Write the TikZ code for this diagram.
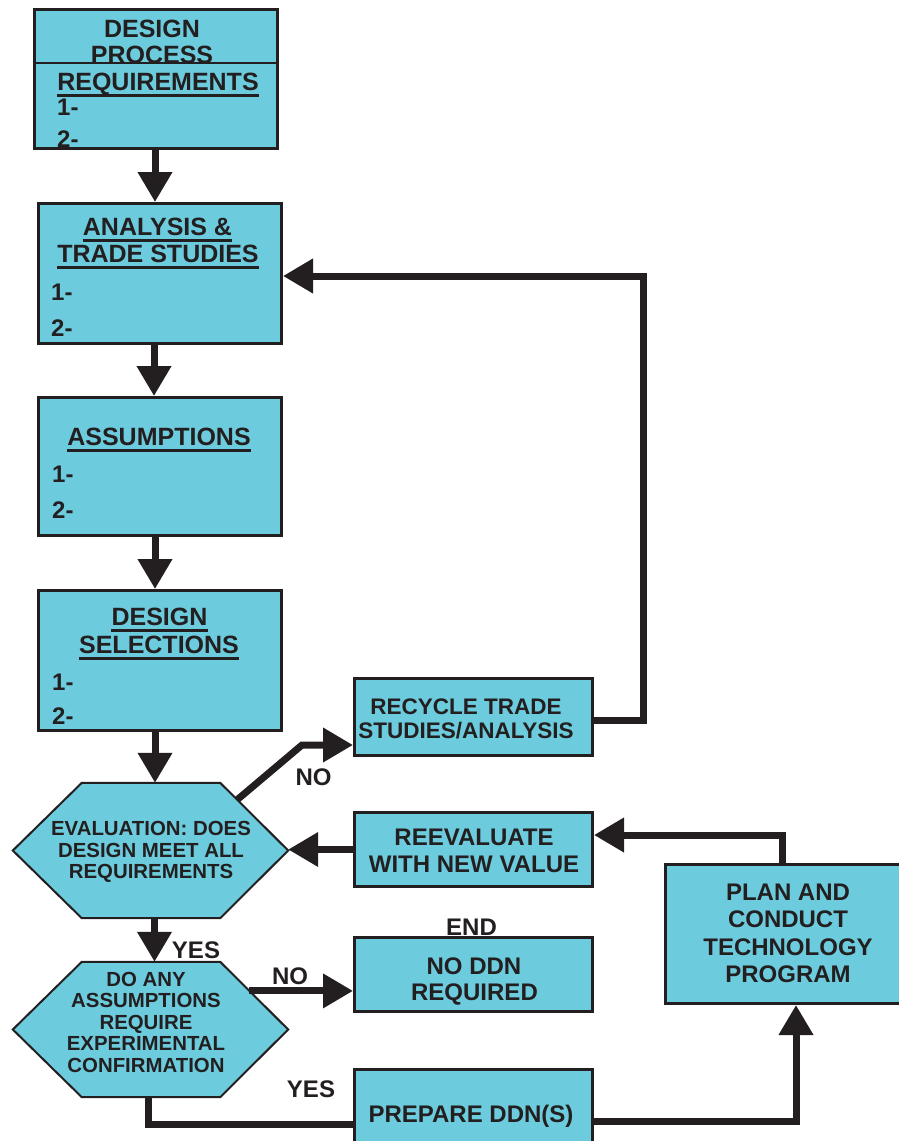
\documentclass[tikz,border=0pt]{standalone}
\usepackage{fontspec}
\setmainfont{Liberation Sans}
\usetikzlibrary{arrows.meta,calc}
\definecolor{boxfill}{RGB}{108,204,221}
\definecolor{ink}{RGB}{35,31,32}
\begin{document}
\begin{tikzpicture}[x=1pt,y=-1pt,
  box/.style={draw=ink, line width=3pt, fill=boxfill, inner sep=0pt},
  hexbox/.style={inner sep=0pt, minimum width=275pt, minimum height=135pt},
  hexline/.style={draw=ink, line width=2pt, fill=boxfill, line join=miter},
  arr/.style={draw=ink, line width=7pt, -{Triangle[width=33pt,length=30pt]}},
  conn/.style={draw=ink, line width=7pt},
  txt/.style={inner sep=0pt, text=ink, font=\bfseries\fontsize{24}{26}\selectfont, anchor=base},
  ttl/.style={txt, font=\bfseries\fontsize{25}{27}\selectfont},
  htxt/.style={txt, font=\bfseries\fontsize{20.4}{22}\selectfont},
  rtxt/.style={txt, font=\bfseries\fontsize{22.5}{24}\selectfont},
  num/.style={txt, anchor=base west},
  uline/.style={draw=ink, line width=3pt}
]
\useasboundingbox (0,0) rectangle (899,1141);
\clip (0,0) rectangle (899,1141);

% ---------- left boxes ----------
\node[box, minimum width=243pt, minimum height=139pt] (b1) at (156,79) {};
\coordinate (dv) at (33,63);
\draw[ink, line width=2.5pt] (dv -| b1.west) -- (dv -| b1.east);
\node[ttl] (t1a) at (152,37) {DESIGN};
\node[ttl] (t1b) at (152,63) {PROCESS};
\node[ttl] (t1c) at (158,90) {REQUIREMENTS};
\draw[uline] ([yshift=-5.5pt]t1c.base west) -- ([yshift=-5.5pt]t1c.base east);
\node[num] (n1a) at (57,115) {1-};
\node[num] (n1b) at (57,147) {2-};

\node[box, minimum width=243pt, minimum height=140pt] (b2) at (160,273.5) {};
\node[ttl] (t2a) at (157.5,235) {ANALYSIS \&};
\draw[uline] ([yshift=-5.5pt]t2a.base west) -- ([yshift=-5.5pt]t2a.base east);
\node[ttl] (t2b) at (158,262) {TRADE STUDIES};
\draw[uline] ([yshift=-5.5pt]t2b.base west) -- ([yshift=-5.5pt]t2b.base east);
\node[num] (n2a) at (51,300) {1-};
\node[num] (n2b) at (51,336) {2-};

\node[box, minimum width=243pt, minimum height=138pt] (b3) at (160,466.5) {};
\node[ttl] (t3a) at (159,445) {ASSUMPTIONS};
\draw[uline] ([yshift=-5.5pt]t3a.base west) -- ([yshift=-5.5pt]t3a.base east);
\node[num] (n3a) at (52,482) {1-};
\node[num] (n3b) at (52,518) {2-};

\node[box, minimum width=243pt, minimum height=140pt] (b4) at (160,660.5) {};
\node[ttl] (t4a) at (159.5,625) {DESIGN};
\draw[uline] ([yshift=-5.5pt]t4a.base west) -- ([yshift=-5.5pt]t4a.base east);
\node[ttl] (t4b) at (159,653) {SELECTIONS};
\draw[uline] ([yshift=-5.5pt]t4b.base west) -- ([yshift=-5.5pt]t4b.base east);
\node[num] (n4a) at (52,690) {1-};
\node[num] (n4b) at (52,724) {2-};

% ---------- hexagons ----------
\node[hexbox] (h1) at (150.5,850.5) {};
\coordinate (h1nw) at ([xshift=69pt]h1.north west);
\coordinate (h1ne) at ([xshift=-68pt]h1.north east);
\coordinate (h1se) at ([xshift=-68pt]h1.south east);
\coordinate (h1sw) at ([xshift=69pt]h1.south west);
\path[hexline] (h1.west) -- (h1nw) -- (h1ne) -- (h1.east) -- (h1se) -- (h1sw) -- cycle;
\node[htxt] (e1) at (151,835) {EVALUATION: DOES};
\node[htxt] (e2) at (151,857) {DESIGN MEET ALL};
\node[htxt] (e3) at (151,878) {REQUIREMENTS};

\node[hexbox] (h2) at (150.5,1029.5) {};
\coordinate (h2nw) at ([xshift=69pt]h2.north west);
\coordinate (h2ne) at ([xshift=-68pt]h2.north east);
\coordinate (h2se) at ([xshift=-68pt]h2.south east);
\coordinate (h2sw) at ([xshift=69pt]h2.south west);
\path[hexline] (h2.west) -- (h2nw) -- (h2ne) -- (h2.east) -- (h2se) -- (h2sw) -- cycle;
\node[htxt] (d1) at (146,986) {DO ANY};
\node[htxt] (d2) at (146,1007.5) {ASSUMPTIONS};
\node[htxt] (d3) at (146,1029) {REQUIRE};
\node[htxt] (d4) at (146,1050.5) {EXPERIMENTAL};
\node[htxt] (d5) at (146,1072) {CONFIRMATION};

% ---------- right boxes ----------
\node[box, minimum width=238pt, minimum height=77pt] (rec) at (473.5,717) {};
\node[rtxt] (r1) at (466,714) {RECYCLE TRADE};
\node[rtxt] (r2) at (466,738) {STUDIES/ANALYSIS};

\node[box, minimum width=238pt, minimum height=74pt] (reev) at (473.5,849.5) {};
\node[txt] (v1) at (474,845) {REEVALUATE};
\node[txt] (v2) at (474,872) {WITH NEW VALUE};

\node[box, minimum width=238pt, minimum height=74pt] (nod) at (473.5,974.5) {};
\node[txt] (o1) at (474,974) {NO DDN};
\node[txt] (o2) at (474.5,1000) {REQUIRED};

\node[box, minimum width=238pt, minimum height=99pt] (prep) at (473.5,1119) {};
\node[txt] (p1) at (471,1122) {PREPARE DDN(S)};

\node[box, minimum width=264.5pt, minimum height=139pt] (plan) at (797.75,934) {};
\node[txt] (q1) at (788,900) {PLAN AND};
\node[txt] (q2) at (788,927) {CONDUCT};
\node[txt] (q3) at (788,955) {TECHNOLOGY};
\node[txt] (q4) at (788,982) {PROGRAM};

% ---------- labels ----------
\node[txt] (lno1) at (313.5,785) {NO};
\node[txt] (lyes1) at (196,958) {YES};
\node[txt] (lno2) at (290,984) {NO};
\node[txt] (lend) at (471.5,935) {END};
\node[txt] (lyes2) at (311,1097) {YES};

% ---------- connectors ----------
\draw[arr] ([xshift=-1pt]b1.south) -- ([xshift=-1pt]b1.south |- b2.north);
\draw[arr] ([xshift=-6pt]b2.south) -- ([xshift=-6pt]b3.north);
\draw[arr] ([xshift=-5pt]b3.south) -- ([xshift=-5pt]b4.north);
\draw[arr] ([xshift=-5pt]b4.south) -- ([xshift=-5pt]b4.south |- h1.north);
\draw[arr] ([xshift=4pt]h1.south) -- ([xshift=4pt]h2.north);

\coordinate (noA) at ($(h1ne)!0.25!(h1.east)$);
\coordinate (noK) at (302,745);
\draw[arr] (noA) -- (noK) -- (noK -| rec.west);

\coordinate (loopC) at (643,276);
\draw[arr] ([yshift=-3pt]rec.east) -| (loopC) -- (loopC -| b2.east);

\draw[arr] (reev.west) -- (reev.west -| h1.east);

\coordinate (pk) at (782,835);
\draw[arr] (pk |- plan.north) -- (pk) -- (pk -| reev.east);

\coordinate (h2no) at ($(h2ne)!0.43!(h2.east)$);
\draw[arr] (h2no) -- (h2no -| nod.west);

\coordinate (yesK) at (148,1124);
\draw[conn] ([xshift=-2.5pt]h2.south) -- (yesK) -- (yesK -| prep.west);

\coordinate (ppk) at (796,1121);
\draw[arr] (ppk -| prep.east) -- (ppk) -- (ppk |- plan.south);
\end{tikzpicture}
\end{document}
